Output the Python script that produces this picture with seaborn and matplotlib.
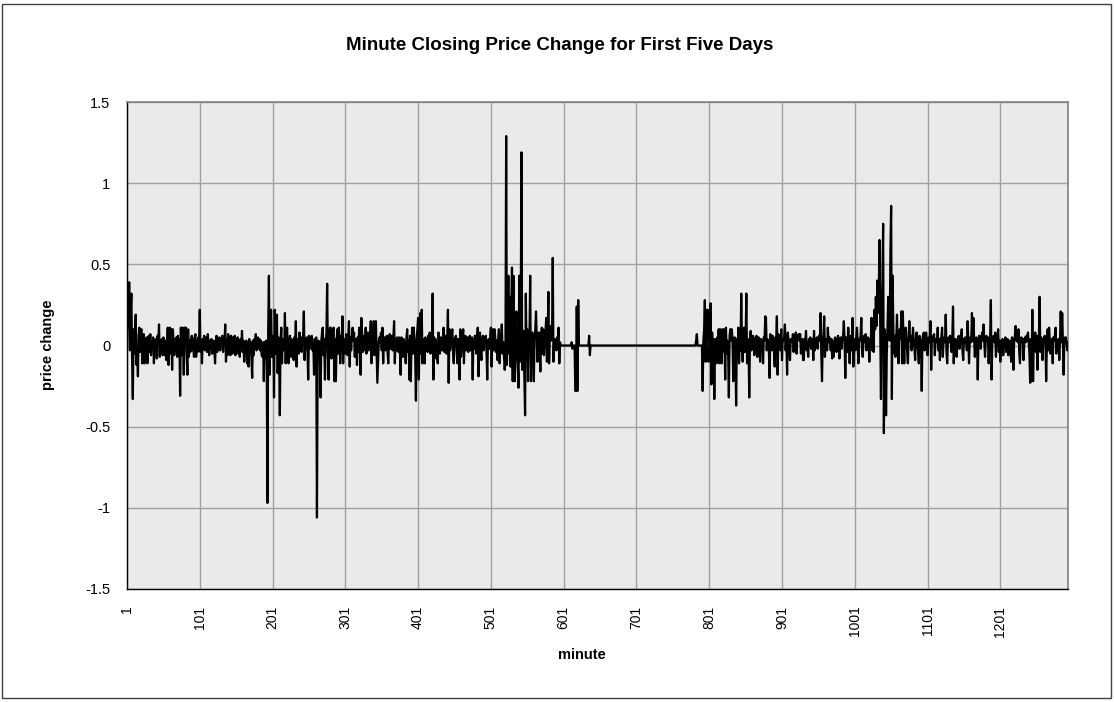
import numpy as np
import pandas as pd
import matplotlib
matplotlib.use("Agg")
import matplotlib.pyplot as plt
import seaborn as sns
from matplotlib.patches import Rectangle

# ---- data: minute closing price change, in cents (hundredths) ----
chg_0001_0100 = [
    0, 25, 12, 39, -3, 20, 32, -8, -33, 10,
    -5, 8, 19, -12, -3, -19, 6, 11, -4, 9,
    10, -11, 4, 7, -11, 2, -10, 5, -11, 3,
    6, -4, 7, -6, 2, -2, 5, -11, 3, -5,
    4, -8, 6, 2, 13, -7, 3, -4, 4, -6,
    5, -2, -6, 3, -9, 2, 11, -12, 9, 11,
    -5, 10, -15, 10, 2, -6, 4, -3, 5, -7,
    6, -3, 4, -31, 11, -6, 11, 9, -18, 11,
    8, 11, -6, -18, 10, -7, 3, -4, 2, 6,
    -3, 4, -7, 5, 7, -7, 3, -4, 5, 2]
chg_0101_0200 = [
    22, -4, 3, -11, 4, -2, 6, -3, 2, 5,
    -4, 7, 2, -6, 3, -2, 4, -5, 2, 3,
    -3, -11, 2, 6, -4, 3, -2, 5, -3, 4,
    2, 6, -4, 5, 3, 13, -10, 4, -6, 7,
    -3, 5, -6, 6, 2, -5, 5, -2, 6, -6,
    3, -3, 5, -5, 2, -7, 4, -2, 9, -4,
    3, -10, 2, -4, 3, -11, 2, -13, 4, -5,
    2, -8, -20, 3, -6, 4, 2, 7, -3, 4,
    5, -2, 4, -3, 3, -6, -7, 2, -22, 2,
    -4, 3, -12, -97, 10, 43, -18, 10, 22, -7]
chg_0201_0300 = [
    4, 6, -32, 22, -5, 8, 19, -17, 5, -6,
    -43, 3, 11, -11, 4, 2, -3, 20, -11, 5,
    11, -4, -11, 3, 6, -7, 4, 2, -3, -9,
    5, -2, 15, -13, 4, 2, -5, 8, -3, 5,
    -4, 3, 6, 21, -9, 3, -2, 5, -4, -21,
    6, -2, 3, 5, 6, -3, 2, -18, 4, -3,
    5, -106, -6, 3, 2, -5, -32, 3, 8, 11,
    -6, 4, -21, 3, 7, 38, -4, -21, 6, 11,
    11, -8, 5, 9, 11, -22, 4, -22, 3, 10,
    -5, 11, 5, -11, 6, -4, 18, -11, 4, 3]
chg_0301_0400 = [
    -5, 7, 3, -6, 4, 15, -13, 5, -3, 6,
    11, 3, 8, -7, 4, 2, -12, 5, -4, 11,
    5, -18, 17, 8, -4, 3, 6, -3, 11, -5,
    4, 8, -3, 2, 6, 15, -11, 4, 3, 15,
    -6, 5, 15, -4, -23, -10, 3, 5, 2, 8,
    -3, 11, -11, 4, 5, -3, 2, 6, -4, -11,
    3, 7, -2, 5, 6, -3, 4, 15, -11, 4,
    -3, 5, 2, -4, 5, -2, -18, 5, 3, -7,
    4, 2, -3, -11, 5, 10, -4, 3, -21, 6,
    -22, 4, 11, -5, 11, 3, -6, -34, 4, 10]
chg_0401_0500 = [
    17, -21, 6, 20, -5, 22, -11, 4, 3, -11,
    5, -3, 2, -4, 6, 2, 8, -5, 3, -2,
    32, -21, 5, -3, 4, -8, 2, -11, 8, 3,
    -5, 5, 2, -3, 4, 11, -4, 3, 6, -5,
    4, 22, -23, 10, -3, 4, 6, 10, -4, -11,
    3, 5, 6, -3, -11, 4, 2, -21, 10, -7,
    3, 5, 10, -11, 4, 6, -3, 3, 5, -4,
    2, 6, -3, 3, 5, -21, 4, -2, 6, 3,
    -5, 4, 11, -19, 3, 8, -4, -9, 3, 6,
    -3, 5, 2, 6, -4, -21, 3, 4, -2, 5]
chg_0501_0600 = [
    11, -13, 4, 10, -3, 10, 5, -4, 3, -9,
    2, 10, -11, 4, 3, 13, -5, 2, -6, -15,
    -8, 129, -12, 10, 43, -5, 30, -13, 22, 48,
    -22, 43, 6, -22, 5, 21, -4, -12, -26, 43,
    -10, 18, 119, -15, 4, 9, -20, -43, 32, -5,
    10, -22, 6, 4, 43, -22, 3, 8, -5, -22,
    4, 10, 21, 5, -10, 3, 8, -4, -16, 6,
    11, -5, 10, -6, 4, 8, 17, -10, 5, 33,
    -11, 6, 12, 3, 4, 54, -10, 3, 4, 2,
    -3, 5, 4, 11, -11, 2, 0, 0, 0, 0]
chg_0601_0700 = [
    0, 0, 0, 0, 0, 0, 0, 0, 0, 0,
    0, 2, -2, 0, 0, 0, -28, -28, 24, -28,
    28, 0, 0, 0, 0, 0, 0, 0, 0, 0,
    0, 0, 0, 0, 0, 6, -6, 0, 0, 0,
    0, 0, 0, 0, 0, 0, 0, 0, 0, 0,
    0, 0, 0, 0, 0, 0, 0, 0, 0, 0,
    0, 0, 0, 0, 0, 0, 0, 0, 0, 0,
    0, 0, 0, 0, 0, 0, 0, 0, 0, 0,
    0, 0, 0, 0, 0, 0, 0, 0, 0, 0,
    0, 0, 0, 0, 0, 0, 0, 0, 0, 0]
chg_0701_0800 = [
    0, 0, 0, 0, 0, 0, 0, 0, 0, 0,
    0, 0, 0, 0, 0, 0, 0, 0, 0, 0,
    0, 0, 0, 0, 0, 0, 0, 0, 0, 0,
    0, 0, 0, 0, 0, 0, 0, 0, 0, 0,
    0, 0, 0, 0, 0, 0, 0, 0, 0, 0,
    0, 0, 0, 0, 0, 0, 0, 0, 0, 0,
    0, 0, 0, 0, 0, 0, 0, 0, 0, 0,
    0, 0, 0, 0, 0, 0, 0, 0, 0, 0,
    0, 0, 3, 7, 0, 0, 0, 0, 0, 0,
    0, -28, 3, 10, 28, -10, 22, 5, 22, -10]
chg_0801_0900 = [
    3, -4, 26, -24, 8, -5, 4, -33, 3, 4,
    -11, 5, -3, 10, -11, 10, 3, -11, 10, -4,
    10, 2, -21, 11, -5, 3, -4, -32, 6, 10,
    3, 10, 4, -22, 3, 5, -6, -37, 4, -4,
    11, -11, 4, -3, 32, 2, -10, 5, 11, -4,
    3, 32, -11, 4, 2, -32, 4, 9, -3, 2,
    6, 5, -6, 3, 4, 6, -7, 2, 5, -3,
    -10, 4, 2, 3, -11, 5, 3, 18, 17, -3,
    4, 2, -3, -20, 7, 4, -3, 6, 2, -3,
    -13, 5, 3, 18, -18, 7, 2, 5, -3, 10]
chg_0901_1000 = [
    -9, 4, 3, 5, 13, -3, 6, -18, 8, 3,
    -2, -9, 4, 3, 2, 7, -4, 6, 3, 8,
    -5, 6, 4, 7, 3, 7, -5, 2, 4, -9,
    -9, 4, 2, 9, -3, 2, -7, 4, 3, 5,
    -2, 3, 4, -9, 9, -3, 4, 2, 5, -2,
    4, 6, 3, 20, -5, -22, 4, 6, 18, -7,
    3, 4, -3, 11, 2, 5, 2, -3, 4, -8,
    2, -7, 3, 5, 2, -4, 3, 6, 4, -8,
    3, 5, -2, 4, 6, 15, 3, -20, 5, 3,
    -4, 11, 3, -11, 4, 6, -3, 17, -13, 4]
chg_1001_1100 = [
    3, -3, 5, 11, 2, -11, 4, 3, 6, 17,
    -3, -7, 4, 6, 2, 7, -3, 2, 5, 3,
    -10, 4, 3, 17, -3, 5, -4, 22, 10, 30,
    12, 40, 20, 35, 65, 10, -33, 20, 40, 75,
    -54, 10, 5, -43, -5, 12, 30, 8, 3, 60,
    86, -33, 43, 10, -5, 6, -7, 3, 19, 2,
    -11, 5, 10, 4, 21, -11, 21, 4, -11, 8,
    11, 3, -4, -11, 5, 15, 3, 6, -3, 2,
    11, 3, -2, -9, 4, 8, 2, -3, -11, 6,
    3, 2, -28, 4, 7, 8, -3, 2, 8, 4]
chg_1101_1200 = [
    -6, 3, 5, 2, 15, -15, 6, 3, 4, 7,
    -6, 3, 4, 2, 11, -3, 4, -9, 3, 5,
    11, -7, 3, 5, 2, 19, -4, -11, 3, 5,
    2, 6, 3, -4, 4, 24, -11, 2, 4, 3,
    -7, 3, 5, 6, -2, 3, 5, 10, -3, -9,
    4, 2, 5, 3, -3, 15, 4, -11, 3, 5,
    2, 20, 3, 17, 4, -7, 3, 5, 2, -21,
    4, 6, 3, -2, 5, 8, 3, 13, 2, -7,
    4, 6, 3, 5, -11, 2, 4, 28, -21, 3,
    5, 6, 2, 8, -7, 3, 4, 10, -4, 3]
chg_1201_1294 = [
    -10, 3, 2, 4, -6, 3, 2, 5, -4, 3,
    4, -6, 2, 3, -3, -10, 5, 2, -15, 3,
    6, 12, 3, 5, 2, 10, -4, -11, 3, 5,
    2, 4, -9, 3, 5, 2, 6, 3, 8, 2,
    -5, -23, 4, -22, 22, -22, 3, 5, 8, -4,
    6, -15, 3, 4, 30, -4, 5, 2, -9, 3,
    5, 6, 3, -22, 2, 10, -3, 11, 3, -5,
    2, 4, -11, 5, 3, 6, 11, -5, 3, 2,
    4, -9, 3, 21, 2, 20, 3, -18, 3, 5,
    5, 2, -3, 2]

blocks = [chg_0001_0100, chg_0101_0200, chg_0201_0300, chg_0301_0400,
          chg_0401_0500, chg_0501_0600, chg_0601_0700, chg_0701_0800,
          chg_0801_0900, chg_0901_1000, chg_1001_1100, chg_1101_1200]
for b in blocks:
    assert len(b) == 100, len(b)
blocks.append(chg_1201_1294)

cents = np.concatenate([np.array(b, dtype=float) for b in blocks])
minutes = np.arange(1, len(cents) + 1)
df = pd.DataFrame({"minute": minutes, "price change": cents / 100.0})

x_ticks = [1, 101, 201, 301, 401, 501, 601, 701, 801, 901, 1001, 1101, 1201]
y_ticks = [-1.5, -1, -0.5, 0, 0.5, 1, 1.5]
y_tick_labels = ["-1.5", "-1", "-0.5", "0", "0.5", "1", "1.5"]

# ---- drawing ----
sns.set_style("white")
plt.rcParams["font.family"] = ["Liberation Sans", "DejaVu Sans"]
plt.rcParams["text.color"] = "black"
plt.rcParams["xtick.color"] = "black"
plt.rcParams["ytick.color"] = "black"

fig = plt.figure(figsize=(11.14, 7.02), dpi=100)
fig.patch.set_facecolor("white")
ax = fig.add_axes([127 / 1114, 1 - 589 / 702, (1068 - 127) / 1114, (589 - 102) / 702])
ax.set_facecolor("#EAEAEA")

sns.lineplot(data=df, x="minute", y="price change", ax=ax, color="black",
             linewidth=1.6, estimator=None, zorder=3)

ax.set_xlim(1, len(cents))
ax.set_ylim(-1.5, 1.5)
ax.set_xticks(x_ticks)
ax.set_xticklabels([str(t) for t in x_ticks], rotation=90, fontsize=10)
ax.set_yticks(y_ticks)
ax.set_yticklabels(y_tick_labels, fontsize=10.5)
ax.grid(True, color="#A0A0A0", linewidth=1.0, zorder=1)
ax.set_axisbelow(True)
ax.tick_params(axis="both", direction="inout", length=6, width=1, color="black",
               labelcolor="black")
ax.tick_params(axis="y", pad=9)
ax.tick_params(axis="x", pad=9)
ax.set_xlabel("")
ax.set_ylabel("")

for side in ["top", "right"]:
    ax.spines[side].set_color("#808080")
    ax.spines[side].set_linewidth(1.2)
for side in ["left", "bottom"]:
    ax.spines[side].set_color("black")
    ax.spines[side].set_linewidth(1.0)

fig.text(560 / 1114, 1 - 45 / 702, "Minute Closing Price Change for First Five Days",
         ha="center", va="center", fontsize=13.5, fontweight="bold", color="black")
fig.text(48 / 1114, 1 - 345 / 702, "price change", rotation=90,
         ha="center", va="center", fontsize=10.5, fontweight="bold", color="black")
fig.text(582 / 1114, 1 - 655 / 702, "minute",
         ha="center", va="center", fontsize=10.5, fontweight="bold", color="black")

fig.add_artist(Rectangle((2 / 1114, 4 / 702), 1109 / 1114, 694 / 702,
                         transform=fig.transFigure, fill=False,
                         edgecolor="#404040", linewidth=1.0))

fig.savefig("out.png", dpi=100, facecolor="white")
